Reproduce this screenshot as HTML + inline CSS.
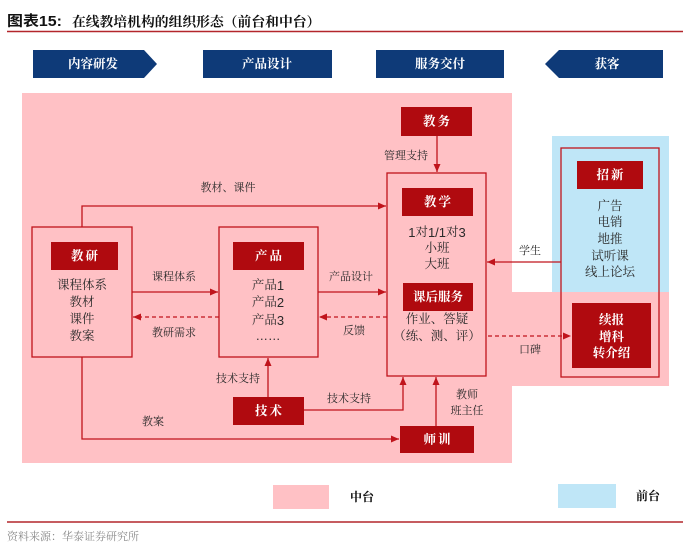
<!DOCTYPE html>
<html>
<head>
<meta charset="utf-8">
<style>
  html,body{margin:0;padding:0;background:#fff;}
  body{width:700px;height:546px;overflow:hidden;}
  svg{display:block;}
  .t{font-family:"Liberation Serif","Noto Serif CJK SC",serif;fill:#2a2a2a;}
  .s{font-family:"Liberation Sans","Noto Sans CJK SC",sans-serif;}
  .w{font-family:"Liberation Serif","Noto Serif CJK SC",serif;fill:#fff;font-weight:700;}
</style>
</head>
<body>
<svg width="700" height="546" viewBox="0 0 700 546" xmlns="http://www.w3.org/2000/svg">
  <defs>
    <marker id="ah" markerUnits="userSpaceOnUse" markerWidth="8" markerHeight="8" viewBox="0 0 8 8" refX="8" refY="4" orient="auto">
      <path d="M0,0.5 L8,4 L0,7.5 z" fill="#c0141c"/>
    </marker>
  </defs>

  <!-- Title -->
  <text x="7" y="22" dominant-baseline="central" font-size="14.5" font-weight="700" fill="#111" font-family="Liberation Sans, Noto Sans CJK SC, sans-serif" textLength="55" lengthAdjust="spacingAndGlyphs">图表15:</text>
  <text x="72" y="22" dominant-baseline="central" font-size="13.8" font-weight="700" fill="#111" font-family="Liberation Serif, Noto Serif CJK SC, serif">在线教培机构的组织形态（前台和中台）</text>
  <line x1="7" y1="31.5" x2="683" y2="31.5" stroke="#b3262b" stroke-width="1.5"/>

  <!-- Header boxes -->
  <polygon points="33,50 144,50 157,64 144,78 33,78" fill="#0e3a78"/>
  <rect x="203" y="50" width="129" height="28" fill="#0e3a78"/>
  <rect x="376" y="50" width="128" height="28" fill="#0e3a78"/>
  <polygon points="545,64 559,50 663,50 663,78 559,78" fill="#0e3a78"/>
  <text class="w" x="93" y="64" font-size="12.5" text-anchor="middle" dominant-baseline="central">内容研发</text>
  <text class="w" x="267" y="64" font-size="12.5" text-anchor="middle" dominant-baseline="central">产品设计</text>
  <text class="w" x="440" y="64" font-size="12.5" text-anchor="middle" dominant-baseline="central">服务交付</text>
  <text class="w" x="607" y="64" font-size="12.5" text-anchor="middle" dominant-baseline="central">获客</text>

  <!-- Background regions -->
  <rect x="22" y="93" width="490" height="370" fill="#ffc1c5"/>
  <rect x="552" y="136" width="117" height="156" fill="#bfe6f7"/>
  <rect x="512" y="292" width="157" height="94" fill="#ffc1c5"/>

  <!-- Framed boxes -->
  <rect x="32" y="227" width="100" height="130" fill="none" stroke="#c0141c" stroke-width="1.3"/>
  <rect x="219" y="227" width="99" height="130" fill="none" stroke="#c0141c" stroke-width="1.3"/>
  <rect x="387" y="173" width="99" height="203" fill="none" stroke="#c0141c" stroke-width="1.3"/>
  <rect x="561" y="148" width="98" height="229" fill="none" stroke="#c0141c" stroke-width="1.3"/>

  <!-- Red labels -->
  <rect x="51" y="242" width="67" height="28" fill="#b00a0f"/>
  <rect x="233" y="242" width="71" height="28" fill="#b00a0f"/>
  <rect x="401" y="107" width="71" height="29" fill="#b00a0f"/>
  <rect x="402" y="188" width="71" height="28" fill="#b00a0f"/>
  <rect x="403" y="283" width="70" height="28" fill="#b00a0f"/>
  <rect x="233" y="397" width="71" height="28" fill="#b00a0f"/>
  <rect x="400" y="426" width="74" height="27" fill="#b00a0f"/>
  <rect x="577" y="161" width="66" height="28" fill="#b00a0f"/>
  <rect x="572" y="303" width="79" height="65" fill="#b00a0f"/>

  <text class="w" x="85.5" y="256" font-size="12.5" text-anchor="middle" dominant-baseline="central" letter-spacing="2">教研</text>
  <text class="w" x="269.5" y="256" font-size="12.5" text-anchor="middle" dominant-baseline="central" letter-spacing="2">产品</text>
  <text class="w" x="437.5" y="121.5" font-size="12.5" text-anchor="middle" dominant-baseline="central" letter-spacing="2">教务</text>
  <text class="w" x="438.5" y="202" font-size="12.5" text-anchor="middle" dominant-baseline="central" letter-spacing="2">教学</text>
  <text class="w" x="438" y="297" font-size="12.5" text-anchor="middle" dominant-baseline="central">课后服务</text>
  <text class="w" x="269.5" y="411" font-size="12.5" text-anchor="middle" dominant-baseline="central" letter-spacing="2">技术</text>
  <text class="w" x="438" y="439.5" font-size="12.5" text-anchor="middle" dominant-baseline="central" letter-spacing="2">师训</text>
  <text class="w" x="611" y="175" font-size="12.5" text-anchor="middle" dominant-baseline="central" letter-spacing="2">招新</text>
  <text class="w" x="611.5" y="320" font-size="12.5" text-anchor="middle" dominant-baseline="central">续报</text>
  <text class="w" x="611.5" y="337" font-size="12.5" text-anchor="middle" dominant-baseline="central">增科</text>
  <text class="w" x="611.5" y="353" font-size="12.5" text-anchor="middle" dominant-baseline="central">转介绍</text>

  <!-- Box contents -->
  <g class="t" font-size="12.5" text-anchor="middle" dominant-baseline="central">
    <text x="82" y="285" dominant-baseline="central">课程体系</text>
    <text x="82" y="302" dominant-baseline="central">教材</text>
    <text x="82" y="319" dominant-baseline="central">课件</text>
    <text x="82" y="336" dominant-baseline="central">教案</text>

    <text x="268" y="285" dominant-baseline="central">产品<tspan class="s" font-size="13">1</tspan></text>
    <text x="268" y="302" dominant-baseline="central">产品<tspan class="s" font-size="13">2</tspan></text>
    <text x="268" y="320" dominant-baseline="central">产品<tspan class="s" font-size="13">3</tspan></text>
    <text x="268" y="336" dominant-baseline="central" class="s">……</text>

    <text x="437" y="232" dominant-baseline="central"><tspan class="s" font-size="13">1</tspan>对<tspan class="s" font-size="13">1/1</tspan>对<tspan class="s" font-size="13">3</tspan></text>
    <text x="437" y="248" dominant-baseline="central">小班</text>
    <text x="437" y="264" dominant-baseline="central">大班</text>
    <text x="437" y="319" dominant-baseline="central">作业、答疑</text>
    <text x="437" y="336" dominant-baseline="central">（练、测、评）</text>

    <text x="610" y="206" dominant-baseline="central">广告</text>
    <text x="610" y="222" dominant-baseline="central">电销</text>
    <text x="610" y="239" dominant-baseline="central">地推</text>
    <text x="610" y="256" dominant-baseline="central">试听课</text>
    <text x="610" y="272" dominant-baseline="central">线上论坛</text>
  </g>

  <!-- Connectors -->
  <g stroke="#c0141c" stroke-width="1.3" fill="none">
    <polyline points="82,227 82,206 386,206" marker-end="url(#ah)"/>
    <line x1="132" y1="292" x2="218" y2="292" marker-end="url(#ah)"/>
    <line x1="219" y1="317" x2="133" y2="317" stroke-dasharray="4,3" marker-end="url(#ah)"/>
    <line x1="318" y1="292" x2="386" y2="292" marker-end="url(#ah)"/>
    <line x1="387" y1="317" x2="319" y2="317" stroke-dasharray="4,3" marker-end="url(#ah)"/>
    <line x1="437" y1="136" x2="437" y2="172" marker-end="url(#ah)"/>
    <line x1="561" y1="262" x2="487" y2="262" marker-end="url(#ah)"/>
    <line x1="488" y1="336" x2="571" y2="336" stroke-dasharray="4,3" marker-end="url(#ah)"/>
    <line x1="268" y1="397" x2="268" y2="358" marker-end="url(#ah)"/>
    <polyline points="304,410 403,410 403,377" marker-end="url(#ah)"/>
    <line x1="436" y1="426" x2="436" y2="377" marker-end="url(#ah)"/>
    <polyline points="82,357 82,439 399,439" marker-end="url(#ah)"/>
  </g>

  <!-- Connector labels -->
  <g class="t" font-size="11" text-anchor="middle">
    <text x="228" y="188" dominant-baseline="central">教材、课件</text>
    <text x="174" y="277" dominant-baseline="central">课程体系</text>
    <text x="174" y="333" dominant-baseline="central">教研需求</text>
    <text x="351" y="277" dominant-baseline="central">产品设计</text>
    <text x="354" y="331" dominant-baseline="central">反馈</text>
    <text x="406" y="156" dominant-baseline="central">管理支持</text>
    <text x="530" y="251" dominant-baseline="central">学生</text>
    <text x="530" y="350" dominant-baseline="central">口碑</text>
    <text x="238" y="379" dominant-baseline="central">技术支持</text>
    <text x="349" y="399" dominant-baseline="central">技术支持</text>
    <text x="153" y="422" dominant-baseline="central">教案</text>
    <text x="467" y="395" dominant-baseline="central">教师</text>
    <text x="467" y="411" dominant-baseline="central">班主任</text>
  </g>

  <!-- Legend -->
  <rect x="273" y="485" width="56" height="24" fill="#ffc1c5"/>
  <text x="350" y="497" dominant-baseline="central" font-size="12" font-weight="700" fill="#111" font-family="Liberation Serif, Noto Serif CJK SC, serif">中台</text>
  <rect x="558" y="484" width="58" height="24" fill="#bfe6f7"/>
  <text x="636" y="496" dominant-baseline="central" font-size="12" font-weight="700" fill="#111" font-family="Liberation Serif, Noto Serif CJK SC, serif">前台</text>

  <!-- Footer -->
  <line x1="7" y1="522" x2="683" y2="522" stroke="#b3262b" stroke-width="1.5"/>
  <text x="7" y="537" dominant-baseline="central" font-size="11" fill="#8a8a8a" font-family="Liberation Serif, Noto Serif CJK SC, serif">资料来源：华泰证券研究所</text>
</svg>
</body>
</html>
